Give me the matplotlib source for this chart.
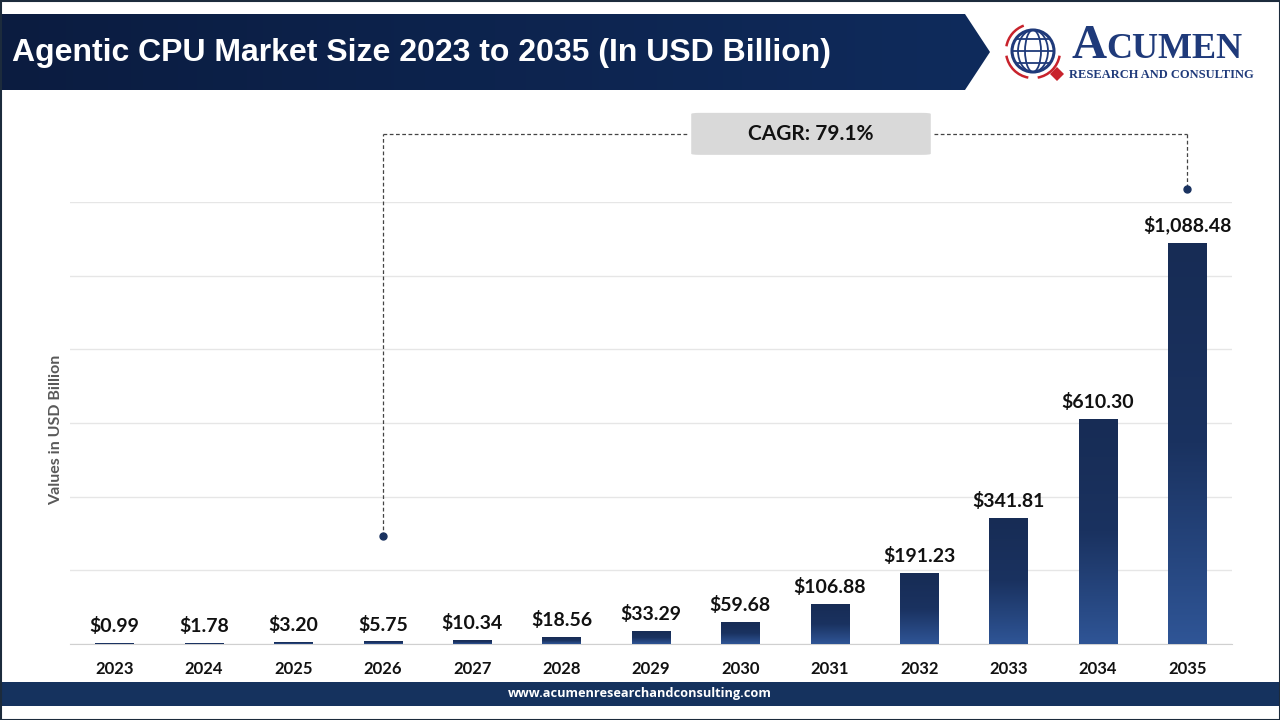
import matplotlib
matplotlib.use("Agg")
import matplotlib.pyplot as plt
import numpy as np
from matplotlib.patches import Polygon, FancyBboxPatch, Rectangle, Circle, Arc, Ellipse
from matplotlib.colors import LinearSegmentedColormap

years = ["2023", "2024", "2025", "2026", "2027", "2028", "2029",
         "2030", "2031", "2032", "2033", "2034", "2035"]
values = [0.99, 1.78, 3.20, 5.75, 10.34, 18.56, 33.29,
          59.68, 106.88, 191.23, 341.81, 610.30, 1088.48]
title = "Agentic CPU Market Size 2023 to 2035 (In USD Billion)"
ylabel = "Values in USD Billion"
cagr_text = "CAGR: 79.1%"
footer = "www.acumenresearchandconsulting.com"

W, H = 1280, 720
fig = plt.figure(figsize=(12.8, 7.2), dpi=100)
fig.patch.set_facecolor("white")

# ---------- decoration layer (pixel coordinates) ----------
deco = fig.add_axes([0, 0, 1, 1], zorder=0)
deco.set_xlim(0, W)
deco.set_ylim(H, 0)
deco.axis("off")

# header banner with gradient
grad = np.linspace(0, 1, 256).reshape(1, -1)
bcmap = LinearSegmentedColormap.from_list("b", ["#0b1c40", "#0f2b5c"])
banner = Polygon([[0, 14], [965, 14], [990, 52], [965, 90], [0, 90]], closed=True,
                 facecolor="none", edgecolor="none")
deco.add_patch(banner)
im = deco.imshow(grad, cmap=bcmap, extent=[0, 990, 90, 14], aspect="auto", zorder=1)
im.set_clip_path(banner)
deco.text(12, 53, title, color="white", fontsize=23, fontweight="bold",
          family="Liberation Sans", va="center", ha="left", zorder=3)

# logo
gx, gy = 1033, 51
deco.add_patch(Circle((gx, gy), 21, facecolor="white", edgecolor="#1f3a7a", lw=2.2, zorder=3))
for r in [8, 15]:
    deco.add_patch(Ellipse((gx, gy), r * 2, 42, facecolor="none", edgecolor="#1f3a7a", lw=1.3, zorder=3))
for dy in [-12, 0, 12]:
    half = np.sqrt(max(21 ** 2 - dy ** 2, 0))
    deco.plot([gx - half, gx + half], [gy + dy, gy + dy], color="#1f3a7a", lw=1.3, zorder=3)
deco.add_patch(Arc((gx, gy), 54, 54, theta1=100, theta2=170, color="#c8232c", lw=1.8, zorder=3))
deco.add_patch(Arc((gx, gy), 54, 54, theta1=10, theta2=80, color="#c8232c", lw=1.8, zorder=3))
deco.add_patch(Arc((gx, gy), 54, 54, theta1=190, theta2=250, color="#c8232c", lw=1.8, zorder=3))
deco.add_patch(Polygon([[1057, 67], [1064, 74], [1057, 81], [1050, 74]], closed=True,
                       facecolor="#c8232c", edgecolor="none", zorder=4))
deco.text(1072, 58, "A", color="#1f3a7a", fontsize=35, family="Liberation Serif",
          fontweight="bold", va="baseline", ha="left", zorder=3)
deco.text(1106, 58, "CUMEN", color="#1f3a7a", fontsize=26, family="Liberation Serif",
          fontweight="bold", va="baseline", ha="left", zorder=3)
deco.text(1069, 78, "RESEARCH AND CONSULTING", color="#1f3a7a", fontsize=9,
          family="Liberation Serif", fontweight="bold", va="baseline", ha="left", zorder=3)

# footer
deco.add_patch(Rectangle((0, 682), W, 24, facecolor="#15325e", edgecolor="none", zorder=1))
deco.text(W / 2, 694, footer, color="white", fontsize=9.2, fontweight="bold",
          family="Open Sans", ha="center", va="center", zorder=3)

# frame
deco.add_patch(Rectangle((0.5, 0.5), W - 1, H - 1, facecolor="none",
                         edgecolor="#1c2b3c", lw=1.5, zorder=5))

# ---------- chart ----------
left, right = 70 / W, 1232 / W
bottom, top = (H - 644) / H, (H - 202) / H
ax = fig.add_axes([left, bottom, right - left, top - bottom], zorder=2)
ax.patch.set_alpha(0)

x = np.arange(len(years))
bars = ax.bar(x, values, width=0.43, color="none", edgecolor="none", zorder=3)
cmap = LinearSegmentedColormap.from_list("bar", ["#2f5596", "#1a3260", "#172c55"])
vgrad = np.linspace(0, 1, 256).reshape(-1, 1)
for b in bars:
    x0, w, h = b.get_x(), b.get_width(), b.get_height()
    ax.imshow(vgrad, cmap=cmap, extent=[x0, x0 + w, 0, h], origin="lower",
              aspect="auto", zorder=3)

for xi, v in zip(x, values):
    ax.annotate(f"${v:,.2f}", (xi, v), xytext=(0, 6), textcoords="offset points",
                ha="center", va="bottom", fontsize=14, fontweight="bold",
                family="Lato", color="#111111", zorder=4)

ax.set_xlim(-0.5, len(years) - 0.5)
ax.set_ylim(0, 1200)
ax.set_yticks(np.arange(0, 1201, 200))
ax.yaxis.grid(True, color="#e6e6e6", lw=1)
ax.set_axisbelow(True)
ax.tick_params(axis="y", length=0, labelleft=False)
ax.tick_params(axis="x", length=0, pad=12)
ax.set_xticks(x)
ax.set_xticklabels(years, fontsize=12, fontweight="bold", family="Lato", color="#111111")
for s in ["top", "right", "left"]:
    ax.spines[s].set_visible(False)
ax.spines["bottom"].set_color("#d0d0d0")
ax.set_ylabel(ylabel, fontsize=11.5, fontweight="bold", family="Lato", color="#595959")
ax.yaxis.set_label_coords(-0.006, 0.484)

# CAGR annotation
ds = dict(color="#444444", lw=0.9, ls=(0, (3, 2)), clip_on=False, zorder=4)
y_line = 1385
ax.plot([3, 3], [293, y_line], **ds)
ax.plot([3, 6.41], [y_line, y_line], **ds)
ax.plot([9.17, 12], [y_line, y_line], **ds)
ax.plot([12, 12], [y_line, 1235], **ds)
ax.plot([3], [293], "o", color="#1a3260", ms=5, clip_on=False, zorder=5)
ax.plot([12], [1235], "o", color="#1a3260", ms=5, clip_on=False, zorder=5)
box = FancyBboxPatch((6.45, y_line - 57), 2.68, 114,
                     boxstyle="round,pad=0,rounding_size=0.1",
                     mutation_aspect=30,
                     facecolor="#d9d9d9", edgecolor="none", clip_on=False, zorder=4)
ax.add_patch(box)
ax.text(7.79, y_line, cagr_text, ha="center", va="center", fontsize=15,
        fontweight="bold", family="Lato", color="#111111", zorder=5, clip_on=False)

fig.savefig("out.png", dpi=100, facecolor="white")
